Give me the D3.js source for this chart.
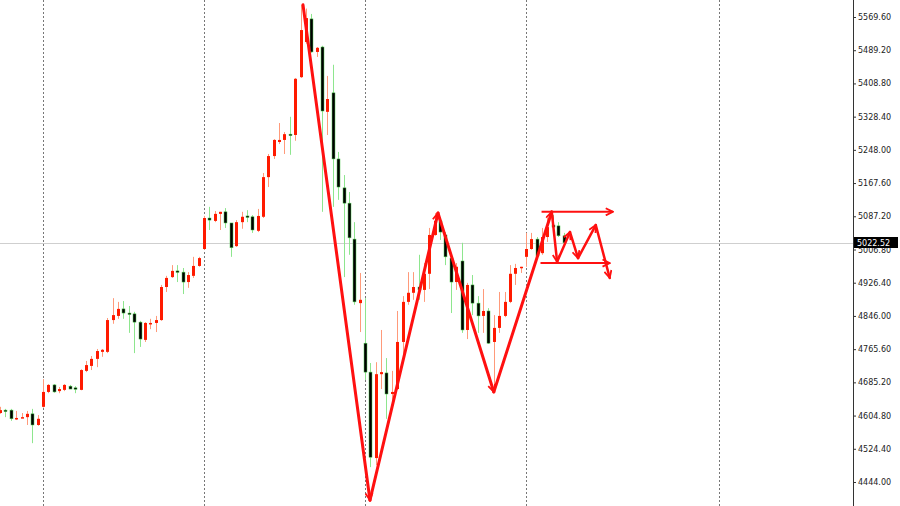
<!DOCTYPE html>
<html><head><meta charset="utf-8">
<script src="https://cdn.jsdelivr.net/npm/d3@7"></script>
<style>html,body{margin:0;padding:0;background:#fff;}svg{display:block;}</style>
</head><body>
<svg id="c" width="900" height="506"></svg>
<script>
// ---- data (candle index 0..105) ----
const opens = [4611,4618,4618,4597,4599,4601,4609,4582,4626,4662,4679,4664,4667,4676,4672,4667,4713,4725,4742,4759,
4759,4836,4846,4863,4853,4851,4831,4788,4827,4829,4836,4916,4940,4955,4952,4928,4943,4967,5008,5083,
5076,5093,5098,5071,5015,5073,5088,5086,5052,5086,5182,5233,5267,5272,5286,5284,5424,5509,5565,5485,
5497,5340,5386,5226,5156,5119,5032,4877,4780,4710,4502,4705,4708,4657,4669,4783,4880,4902,4916,4909,
4948,5042,5076,5042,4986,4928,4979,4812,4921,4877,4846,4858,4783,4817,4846,4880,4948,4962,4989,5008,
5032,4998,5037,5066,5064,5040];
const highs = [4626,4621,4621,4616,4611,4616,4621,4606,4693,4681,4681,4674,4681,4679,4676,4717,4737,4749,4766,4766,
4841,4889,4880,4882,4870,4856,4834,4831,4839,4846,4921,4943,4969,4969,4962,4952,4989,4989,5088,5110,
5100,5098,5107,5071,5078,5098,5102,5090,5105,5192,5238,5274,5313,5291,5328,5422,5599,5590,5577,5497,
5500,5427,5454,5243,5187,5146,5073,4950,4889,4732,4734,4812,4744,4713,4858,4894,4952,4952,4994,4974,
5059,5095,5083,5049,4986,4974,5023,4926,4945,4894,4911,4865,4848,4904,4904,4969,4972,4965,5047,5047,
5037,5059,5083,5090,5073,5047];
const lows = [4609,4601,4592,4594,4599,4582,4538,4580,4624,4659,4660,4659,4664,4669,4659,4666,4710,4715,4722,4747,
4756,4827,4839,4839,4805,4756,4771,4783,4814,4807,4834,4904,4938,4928,4899,4914,4938,4965,5006,5054,
5073,5054,5059,4989,5013,5057,5073,5047,5049,5083,5158,5226,5262,5238,5236,5270,5422,5505,5483,5473,
5098,5284,5110,5127,4940,4994,4873,4807,4691,4480,4485,4669,4597,4630,4667,4751,4873,4885,4885,4880,
4911,5040,5030,4969,4853,4909,4805,4790,4848,4805,4805,4778,4662,4805,4843,4877,4921,4950,4965,5006,
4986,4994,5025,5057,5037,5018];
const closes = [4618,4616,4597,4599,4601,4609,4582,4597,4662,4679,4662,4669,4679,4669,4669,4715,4727,4742,4761,4764,
4836,4848,4863,4853,4851,4831,4790,4829,4829,4836,4916,4938,4955,4952,4928,4945,4967,4986,5083,5078,
5093,5098,5071,5011,5073,5086,5086,5054,5088,5182,5233,5272,5272,5286,5284,5420,5538,5567,5485,5495,
5342,5371,5226,5158,5119,5035,4880,4885,4710,4504,4705,4710,4657,4662,4783,4880,4902,4916,4909,4948,
5042,5076,5049,4989,4928,4965,4812,4921,4877,4846,4858,4780,4817,4846,4880,4948,4962,4965,5008,5032,
4991,5037,5061,5061,5040,5023];
const yTicks = [5569.60,5489.20,5408.80,5328.40,5248.00,5167.60,5087.20,5006.80,4926.40,4846.00,4765.60,4685.20,4604.80,4524.40,4444.00];
const gridIdx = [8,38,68,98,134];
const currentPrice = 5022.52;
// zigzag annotation: [candle index, price]
const zzIdx   = [56.45,68.93,81.6,92.0,102.8,103.8,106.2,107.7,111.0,113.6];
const zzPrice = [5599,4400,5095,4662,5098,4977,5049,4986,5066,4938];
// range lines: [startIdx, endIdx, price]
const rangeStart = [100.9,100.7];
const rangeEnd   = [114.2,113.6];
const rangePrice = [5098,4974];

// ---- chart ----
const svg = d3.select('#c');
const W = 900, H = 506, axisX = 853;
const x = d3.scaleLinear().domain([0,134]).range([0.06,719.2]);
const y = d3.scaleLinear().domain([4444,5569.6]).range([482,17]);

const defs = svg.append('defs');
defs.append('marker').attr('id','arr').attr('viewBox','0 0 10 10').attr('refX',9).attr('refY',5)
  .attr('markerWidth',9).attr('markerHeight',9).attr('markerUnits','userSpaceOnUse').attr('orient','auto')
  .append('path').attr('d','M1,1 L9,5 L1,9').attr('fill','none').attr('stroke','#ff1010').attr('stroke-width',2);

// grid verticals
svg.append('g').selectAll('line').data(gridIdx).join('line')
  .attr('x1',d=>Math.round(x(d))+0.5).attr('x2',d=>Math.round(x(d))+0.5)
  .attr('y1',0).attr('y2',H).attr('stroke','#777').attr('stroke-width',1).attr('stroke-dasharray','2,2');

// current price line
svg.append('line').attr('x1',0).attr('x2',axisX).attr('y1',Math.round(y(currentPrice))+0.5).attr('y2',Math.round(y(currentPrice))+0.5)
  .attr('stroke','#cfcfcf').attr('stroke-width',1);

// candles
const data = opens.map((o,i)=>({i,o,h:highs[i],l:lows[i],c:closes[i]}));
const cg = svg.append('g');
const cx = d=>Math.round(x(d.i));
cg.selectAll('line.w').data(data).join('line').attr('class','w')
  .attr('x1',d=>cx(d)+0.5).attr('x2',d=>cx(d)+0.5)
  .attr('y1',d=>y(d.h)).attr('y2',d=>y(d.l))
  .attr('stroke',d=>d.c>=d.o?'#ff9a7a':'#8ee68e').attr('stroke-width',1);
cg.selectAll('rect.b').data(data).join('rect').attr('class','b')
  .attr('x',d=>cx(d)-1).attr('width',3)
  .attr('y',d=>y(Math.max(d.o,d.c)))
  .attr('height',d=>Math.max(1.5,Math.abs(y(d.o)-y(d.c))))
  .attr('fill',d=>d.c>=d.o?'#ff1a00':'#000')
  .attr('stroke',d=>d.c>=d.o?'none':'#4fc94f').attr('stroke-width',0.5);

// zigzag
const zg = svg.append('g');
for(let k=0;k<zzIdx.length-1;k++){
  zg.append('line').attr('x1',x(zzIdx[k])).attr('y1',y(zzPrice[k]))
    .attr('x2',x(zzIdx[k+1])).attr('y2',y(zzPrice[k+1]))
    .attr('stroke','#ff1010').attr('stroke-width',k<4?3:2.5).attr('stroke-linecap','round')
    .attr('marker-end','url(#arr)');
}
rangePrice.forEach((p,k)=>{
  zg.append('line').attr('x1',x(rangeStart[k])).attr('x2',x(rangeEnd[k]))
    .attr('y1',y(p)).attr('y2',y(p)).attr('stroke','#ff1010').attr('stroke-width',2)
    .attr('marker-end','url(#arr)');
});

// right axis
svg.append('line').attr('x1',axisX+0.5).attr('x2',axisX+0.5).attr('y1',0).attr('y2',H).attr('stroke','#333');
const ag = svg.append('g').attr('transform',`translate(${axisX},0)`);
const axis = d3.axisRight(y).tickValues(yTicks).tickFormat(d3.format('.2f')).tickSize(3).tickPadding(2);
ag.call(axis);
ag.select('.domain').remove();
ag.selectAll('.tick line').attr('stroke','#333');
ag.selectAll('.tick text').attr('font-family','DejaVu Sans, sans-serif').attr('font-size','8px').attr('fill','#222');

// current price label
const cy = y(currentPrice);
svg.append('rect').attr('x',axisX+1).attr('y',cy-6).attr('width',44).attr('height',11).attr('fill','#000');
svg.append('text').attr('x',axisX+4).attr('y',cy+3).attr('font-family','DejaVu Sans, sans-serif').attr('font-size','8px')
  .attr('fill','#fff').text(currentPrice.toFixed(2));
</script>
</body></html>
